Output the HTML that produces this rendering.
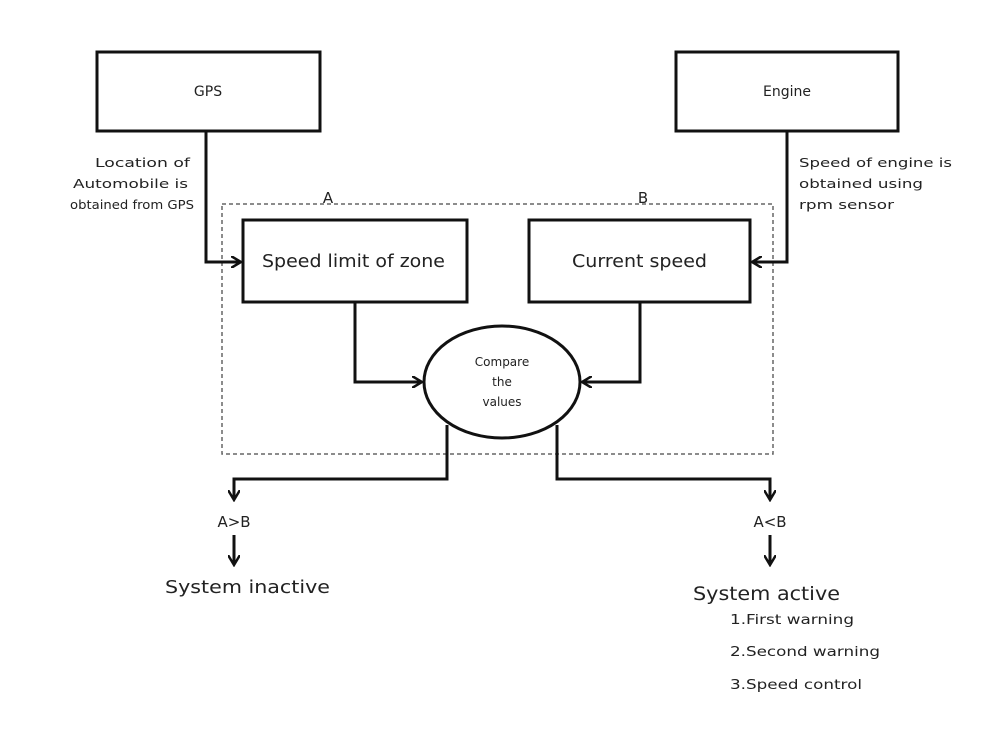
<!DOCTYPE html>
<html><head><style>
body{margin:0;background:#fff;}
svg text{font-family:"DejaVu Sans","Liberation Sans",sans-serif;fill:#222;}
</style></head><body>
<svg width="1000" height="745" viewBox="0 0 1000 745" xmlns="http://www.w3.org/2000/svg">
<defs>
<marker id="ah" markerWidth="12" markerHeight="12" refX="10" refY="6" orient="auto" markerUnits="userSpaceOnUse">
<path d="M0,0 L10,6 L0,12" fill="none" stroke="#111" stroke-width="2.5"/>
</marker>
</defs>
<g fill="none" stroke="#111" stroke-width="3">
<rect x="97" y="52" width="223" height="79"/>
<rect x="676" y="52" width="222" height="79"/>
<rect x="243" y="220" width="224" height="82"/>
<rect x="529" y="220" width="221" height="82"/>
<ellipse cx="502" cy="382" rx="78" ry="56"/>
</g>
<rect x="222" y="204" width="551" height="250" fill="none" stroke="#666" stroke-width="1.5" stroke-dasharray="4,3"/>
<g fill="none" stroke="#111" stroke-width="3">
<polyline points="206,131 206,262 241,262" marker-end="url(#ah)"/>
<polyline points="787,131 787,262 752,262" marker-end="url(#ah)"/>
<polyline points="355,302 355,382 422,382" marker-end="url(#ah)"/>
<polyline points="640,302 640,382 582,382" marker-end="url(#ah)"/>
<polyline points="447,425 447,479 234,479 234,500" marker-end="url(#ah)"/>
<polyline points="557,425 557,479 770,479 770,500" marker-end="url(#ah)"/>
<line x1="234" y1="535" x2="234" y2="565" marker-end="url(#ah)"/>
<line x1="770" y1="535" x2="770" y2="565" marker-end="url(#ah)"/>
</g>
<text x="208" y="96" font-size="14" text-anchor="middle">GPS</text>
<text x="787" y="96" font-size="14" text-anchor="middle">Engine</text>
<text x="262" y="267" font-size="18" textLength="183" lengthAdjust="spacingAndGlyphs">Speed limit of zone</text>
<text x="572" y="267" font-size="18" textLength="135" lengthAdjust="spacingAndGlyphs">Current speed</text>
<text x="502" y="366" font-size="12" text-anchor="middle">Compare</text>
<text x="502" y="386" font-size="12" text-anchor="middle">the</text>
<text x="502" y="406" font-size="12" text-anchor="middle">values</text>
<text x="328" y="203" font-size="15" text-anchor="middle">A</text>
<text x="643" y="203" font-size="15" text-anchor="middle">B</text>
<g font-size="12.5">
<text x="95" y="167" textLength="95" lengthAdjust="spacingAndGlyphs">Location of</text>
<text x="73" y="188" textLength="115" lengthAdjust="spacingAndGlyphs">Automobile is</text>
<text x="70" y="209" textLength="124" lengthAdjust="spacingAndGlyphs">obtained from GPS</text>
</g>
<g font-size="12.5">
<text x="799" y="167" textLength="153" lengthAdjust="spacingAndGlyphs">Speed of engine is</text>
<text x="799" y="188" textLength="124" lengthAdjust="spacingAndGlyphs">obtained using</text>
<text x="799" y="209" textLength="95" lengthAdjust="spacingAndGlyphs">rpm sensor</text>
</g>
<text x="234" y="527" font-size="15" text-anchor="middle">A&gt;B</text>
<text x="770" y="527" font-size="15" text-anchor="middle">A&lt;B</text>
<text x="165" y="593" font-size="18" textLength="165" lengthAdjust="spacingAndGlyphs">System inactive</text>
<text x="693" y="600" font-size="19" textLength="147" lengthAdjust="spacingAndGlyphs">System active</text>
<g font-size="13">
<text x="730" y="624" textLength="124" lengthAdjust="spacingAndGlyphs">1.First warning</text>
<text x="730" y="656" textLength="150" lengthAdjust="spacingAndGlyphs">2.Second warning</text>
<text x="730" y="689" textLength="132" lengthAdjust="spacingAndGlyphs">3.Speed control</text>
</g>
</svg>
</body></html>
